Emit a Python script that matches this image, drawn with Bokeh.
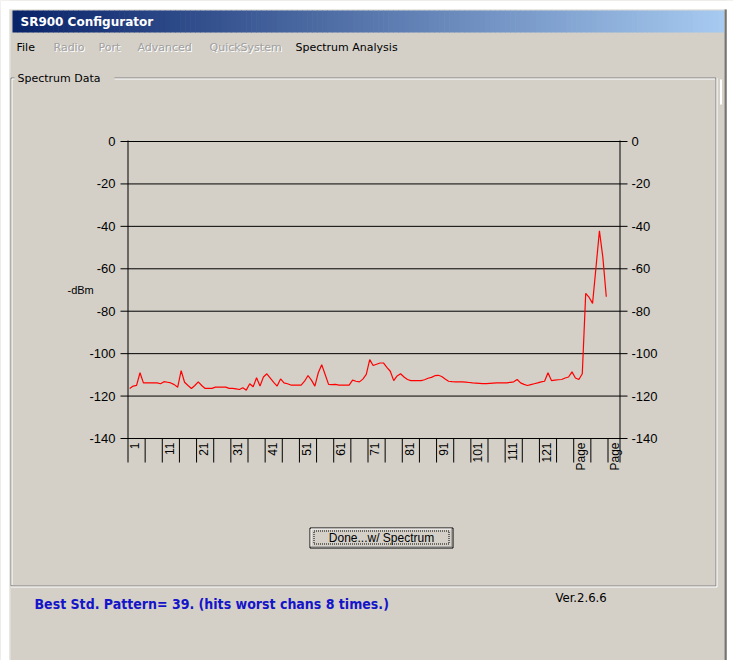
import numpy as np
from bokeh.plotting import figure
from bokeh.models import Range1d
from bokeh.embed import file_html
from bokeh.resources import INLINE
from bokeh.core.properties import value

# ---------------- data ----------------
channels = list(range(1, 141))
dbm = [
    -116.4, -115.3, -115.0, -109.0, -113.8, -113.8, -113.8, -113.8, -113.8, -114.2,
    -113.2, -113.5, -113.8, -114.6, -115.8, -108.0, -113.5, -115.0, -116.4, -115.0,
    -113.3, -115.0, -116.4, -116.4, -116.4, -115.8, -115.8, -115.8, -115.8, -116.4,
    -116.4, -116.6, -116.9, -116.1, -117.2, -114.2, -115.6, -111.4, -115.3, -111.0,
    -109.5, -111.5, -113.5, -115.3, -111.9, -113.8, -114.2, -114.8, -114.8, -114.8,
    -114.8, -113.0, -110.3, -112.5, -115.3, -109.0, -105.2, -109.8, -114.5, -114.6,
    -114.5, -114.8, -114.8, -114.8, -114.8, -112.5, -113.0, -113.3, -112.0, -109.8,
    -102.8, -105.6, -105.0, -104.4, -104.4, -106.5, -108.3, -112.7, -110.5, -109.5,
    -111.0, -112.2, -112.7, -112.7, -112.7, -112.7, -112.3, -111.6, -111.2, -110.4,
    -110.2, -110.8, -112.0, -113.0, -113.2, -113.3, -113.3, -113.3, -113.4, -113.6,
    -113.8, -113.9, -114.0, -114.1, -114.1, -114.0, -113.9, -113.8, -113.8, -113.8,
    -113.8, -113.5, -113.3, -112.2, -113.8, -114.5, -115.0, -114.6, -114.2, -113.8,
    -113.3, -113.0, -109.0, -112.7, -112.5, -112.3, -112.2, -111.5, -111.0, -108.6,
    -111.5, -112.2, -109.5, -71.6, -73.5, -76.3, -59.3, -42.1, -54.6, -73.2,
]
y_ticks = [0, -20, -40, -60, -80, -100, -120, -140]
y_tick_labels = ["0", "-20", "-40", "-60", "-80", "-100", "-120", "-140"]
x_tick_labels = ["1", "11", "21", "31", "41", "51", "61", "71", "81", "91",
                 "101", "111", "121", "Page", "Page"]
menu_items = ["File", "Radio", "Port", "Advanced", "QuickSystem", "Spectrum Analysis"]
menu_enabled = [True, False, False, False, False, True]
menu_x = [16, 53, 98, 137, 209, 295]

# ---------------- layout (page pixels) ----------------
W, H = 733, 660
GRAY = "#d4d0c8"
DARK = "#808080"
PX_LEFT, PX_RIGHT = 127.5, 619.5     # plot area x
PX_TOP, PX_BOT = 141.0, 438.0        # y of 0 dBm and -140 dBm
CELL_BOT = 462.0
px_per_db = (PX_BOT - PX_TOP) / 140.0
px_per_ch = (608.0 - 128.0) / 140.0
NARROW = value("DejaVu Sans Condensed, Liberation Sans")

p = figure(width=W, height=H, x_range=Range1d(0, W), y_range=Range1d(H, 0),
           output_backend="svg", toolbar_location=None,
           x_axis_location=None, y_axis_location=None, min_border=0,
           background_fill_color=GRAY, border_fill_color=GRAY, outline_line_color=None)
p.xgrid.visible = False
p.ygrid.visible = False

ch_lo = 0.5 - PX_LEFT / px_per_ch
ch_hi = 0.5 + (W - PX_LEFT) / px_per_ch
db_hi = 0 + PX_TOP / px_per_db
db_lo = -140 - (H - PX_BOT) / px_per_db
p.extra_x_ranges = {"ch": Range1d(ch_lo, ch_hi)}
p.extra_y_ranges = {"db": Range1d(db_lo, db_hi)}
ch_right = 0.5 + (PX_RIGHT - PX_LEFT) / px_per_ch

# ---------------- window chrome ----------------
p.quad(left=[0, 0, 726], right=[9, W, W], top=[0, 0, 0], bottom=[H, 9, H],
       fill_color="white", line_color=None)
p.segment(x0=[9.5], y0=[9], x1=[9.5], y1=[H], line_color="#e8e6e0")
p.segment(x0=[9], y0=[9.5], x1=[726], y1=[9.5], line_color="#e8e6e0")
p.segment(x0=[724.5], y0=[9], x1=[724.5], y1=[H], line_color=DARK)
p.segment(x0=[725.5], y0=[9], x1=[725.5], y1=[H], line_color="#404040")

n = 140
xs = np.linspace(12, 723, n + 1)
c0 = np.array([10, 36, 106]); c1 = np.array([166, 202, 240])
cols = ["#%02x%02x%02x" % tuple((c0 + (c1 - c0) * t).astype(int)) for t in np.linspace(0, 1, n)]
p.quad(left=xs[:-1], right=xs[1:] + 0.6, top=10, bottom=32, fill_color=cols, line_color=None)
p.text(x=[20], y=[21.5], text=["SR900 Configurator"], text_color="white",
       text_font=value("DejaVu Sans"), text_font_style="bold", text_font_size="12px",
       text_baseline="middle")

for name, en, mx in zip(menu_items, menu_enabled, menu_x):
    if not en:
        p.text(x=[mx + 1], y=[47.5], text=[name], text_color="white",
               text_font=value("DejaVu Sans"), text_font_size="11px", text_baseline="middle")
    p.text(x=[mx], y=[46.5], text=[name], text_color="black" if en else "#a0a0a0",
           text_font=value("DejaVu Sans"), text_font_size="11px", text_baseline="middle")

# group box
L, T, R, B = 10.5, 77.5, 716.5, 586.5
p.segment(x0=[L, 114, L, R - 1, L], y0=[T, T, T, T, B - 1],
          x1=[14, R - 1, L, R - 1, R - 1], y1=[T, T, B - 1, B - 1, B - 1], line_color=DARK)
p.segment(x0=[L + 1, 114, L + 1, R, L], y0=[T + 1, T + 1, T + 1, T, B],
          x1=[14, R - 2, L + 1, R, R], y1=[T + 1, T + 1, B - 2, B, B], line_color="white")
p.text(x=[17], y=[77.5], text=["Spectrum Data"], text_color="black",
       text_font=value("DejaVu Sans"), text_font_size="11px", text_baseline="middle")
p.segment(x0=[720.5], y0=[79], x1=[720.5], y1=[104], line_color="white", line_width=2)

# ---------------- chart ----------------
p.segment(x0=[120] * len(y_ticks), y0=y_ticks, x1=[627] * len(y_ticks), y1=y_ticks,
          y_range_name="db", line_color="black", line_width=1)
p.segment(x0=[0.5, ch_right], y0=[PX_TOP - 1, PX_TOP - 1], x1=[0.5, ch_right],
          y1=[CELL_BOT, CELL_BOT], x_range_name="ch", line_color="black")
sep = [0.5 + 5 * k for k in range(1, 29)]
p.segment(x0=sep, y0=[PX_BOT] * len(sep), x1=sep, y1=[CELL_BOT] * len(sep),
          x_range_name="ch", line_color="black")

p.text(x=[115] * len(y_ticks), y=y_ticks, text=y_tick_labels, y_range_name="db",
       text_align="right", text_baseline="middle", text_color="black",
       text_font=value("Liberation Sans"), text_font_size="13px")
p.text(x=[631] * len(y_ticks), y=y_ticks, text=y_tick_labels, y_range_name="db",
       text_align="left", text_baseline="middle", text_color="black",
       text_font=value("Liberation Sans"), text_font_size="13px")
p.text(x=[67], y=[-70], text=["-dBm"], y_range_name="db", text_align="left",
       text_baseline="middle", text_color="black",
       text_font=value("Liberation Sans"), text_font_size="11px")

xl_pos = [10 * i + 2.5 for i in range(len(x_tick_labels))]
p.text(x=xl_pos, y=[PX_BOT + 4] * len(xl_pos), text=x_tick_labels, x_range_name="ch",
       angle=np.pi / 2, text_align="right", text_baseline="middle", text_color="black",
       text_font=value("Liberation Sans"), text_font_size="12px")

p.line(x=channels, y=dbm, x_range_name="ch", y_range_name="db",
       line_color="#ff0000", line_width=1.2)

# ---------------- button & status ----------------
p.quad(left=[309.5], right=[452.5], top=[527.5], bottom=[547.5],
       fill_color=GRAY, line_color="black")
p.segment(x0=[310.5, 310.5], y0=[528.5, 528.5], x1=[451, 310.5], y1=[528.5, 546],
          line_color="white")
p.segment(x0=[310.5, 451.5], y0=[546.5, 528.5], x1=[451.5, 451.5], y1=[546.5, 546.5],
          line_color=DARK)
p.quad(left=[313.5], right=[448.5], top=[530.5], bottom=[543.5], fill_color=None,
       line_color="black", line_dash="1 1")
p.text(x=[381], y=[537.5], text=["Done...w/ Spectrum"], text_align="center",
       text_baseline="middle", text_color="black",
       text_font=value("Liberation Sans"), text_font_size="12px")

p.text(x=[34], y=[603], text=["Best Std. Pattern= 39. (hits worst chans 8 times.)"],
       text_baseline="middle", text_color="#1414c8",
       text_font=NARROW, text_font_style="bold", text_font_size="14px")
p.text(x=[555], y=[597], text=["Ver.2.6.6"], text_baseline="middle", text_color="black",
       text_font=NARROW, text_font_size="13px")

open("out.html", "w").write(file_html(p, INLINE))
